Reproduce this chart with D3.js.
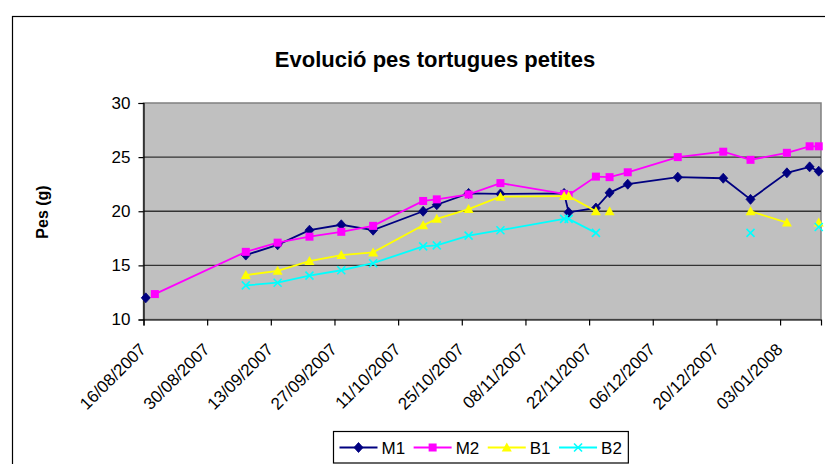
<!DOCTYPE html>
<html>
<head>
<meta charset="utf-8">
<script src="https://cdn.jsdelivr.net/npm/d3@7"></script>
<style>
	html,body{margin:0;padding:0;background:#fff;}
	svg{display:block;font-family:"Liberation Sans",Arial,sans-serif;}
</style>
</head>
<body>
<div id="chart"></div>
<script>
// dates of the weighings
var dates = ["16/08/2007","18/08/2007","07/09/2007","14/09/2007","21/09/2007","28/09/2007","05/10/2007",
	"16/10/2007","19/10/2007","26/10/2007","02/11/2007","16/11/2007","17/11/2007","23/11/2007","26/11/2007",
	"30/11/2007","11/12/2007","21/12/2007","27/12/2007","04/01/2008","09/01/2008","11/01/2008"];
var m1 = [12.0,null,15.95,16.9,18.25,18.75,18.25,20.0,20.6,21.65,21.6,21.65,19.9,20.3,21.7,22.5,23.15,23.05,21.1,23.55,24.1,23.7];
var m2 = [null,12.35,16.25,17.1,17.65,18.1,18.65,20.95,21.1,21.55,22.6,21.6,21.5,23.2,23.15,23.6,25.0,25.5,24.75,25.4,26.0,26.0];
var b1 = [null,null,14.1,14.5,15.4,15.95,16.2,18.7,19.3,20.2,21.35,21.4,21.4,20.0,20.0,null,null,null,20.0,18.95,null,18.95];
var b2 = [null,null,13.15,13.4,14.05,14.55,15.2,16.75,16.85,17.75,18.25,19.3,19.3,18.0,null,null,null,null,18.0,null,null,18.55];
var b1Breaks = ["26/11/2007"]; // line is not joined to this point
var seriesNames = ["M1","M2","B1","B2"];
var yTicks = [10,15,20,25,30];
var axisStart = "16/08/2007", axisEnd = "12/01/2008";

var W = 825, H = 464;
var plot = {left:143.5, right:821, top:103, bottom:319.5};
var styles = {
	M1:{color:"#000080",marker:"diamond"},
	M2:{color:"#ff00ff",marker:"square"},
	B1:{color:"#ffff00",marker:"triangle"},
	B2:{color:"#00ffff",marker:"cross"}
};
var parse = d3.utcParse("%d/%m/%Y");
var fmt = d3.utcFormat("%d/%m/%Y");

var svg = d3.select("#chart").append("svg").attr("width",W).attr("height",H);

// outer chart border (goes past the right and bottom edges)
svg.append("rect").attr("x",12.5).attr("y",16.5).attr("width",W).attr("height",H)
	.attr("fill","#fff").attr("stroke","#000").attr("stroke-width",1.2);

var x = d3.scaleUtc().domain([parse(axisStart),parse(axisEnd)]).range([plot.left,plot.right]);
var y = d3.scaleLinear().domain([10,30]).range([plot.bottom,plot.top]);
var mid = function(s){ return x(d3.utcHour.offset(parse(s),12)); };

// plot area
svg.append("rect").attr("x",plot.left).attr("y",plot.top)
	.attr("width",plot.right-plot.left).attr("height",plot.bottom-plot.top)
	.attr("fill","#c0c0c0").attr("stroke","#808080").attr("stroke-width",1.5);

svg.append("g").selectAll("line").data(yTicks.slice(1,-1)).enter().append("line")
	.attr("x1",plot.left).attr("x2",plot.right)
	.attr("y1",function(d){return y(d);}).attr("y2",function(d){return y(d);})
	.attr("stroke","#333").attr("stroke-width",1.4);

// axes
var yAxis = svg.append("g").attr("transform","translate("+plot.left+",0)")
	.call(d3.axisLeft(y).tickValues(yTicks).tickSize(5).tickPadding(8));
var xTicks = d3.utcDay.range(parse(axisStart),parse(axisEnd),14);
var xAxis = svg.append("g").attr("transform","translate(0,"+plot.bottom+")")
	.call(d3.axisBottom(x).tickValues(xTicks).tickSize(6).tickFormat(fmt));
[yAxis,xAxis].forEach(function(a){
	a.select(".domain").attr("stroke","#000").attr("stroke-width",1.2);
	a.selectAll(".tick line").attr("stroke","#000").attr("stroke-width",1.2);
	a.selectAll("text").attr("font-size",17).attr("fill","#000")
		.attr("font-family","Liberation Sans,Arial,sans-serif");
});
xAxis.selectAll(".tick text")
	.attr("text-anchor","end").attr("y",0).attr("dy",0)
	.attr("transform","translate(3,31) rotate(-45)");

// titles
svg.append("text").attr("x",435).attr("y",67).attr("text-anchor","middle")
	.attr("font-size",22).attr("font-weight","bold").text("Evolució pes tortugues petites");
svg.append("text").attr("transform","translate(48,212) rotate(-90)").attr("text-anchor","middle")
	.attr("font-size",16).attr("font-weight","bold").text("Pes (g)");

function drawMarker(g,type,color,cx,cy){
	if(type=="diamond"){
		g.append("path").attr("d","M"+cx+","+(cy-5)+"L"+(cx+4.5)+","+cy+"L"+cx+","+(cy+5)+"L"+(cx-4.5)+","+cy+"Z")
			.attr("fill",color).attr("stroke",color).attr("stroke-width",0.8);
	}else if(type=="square"){
		g.append("rect").attr("x",cx-4).attr("y",cy-4).attr("width",8).attr("height",8).attr("fill",color);
	}else if(type=="triangle"){
		g.append("path").attr("d","M"+cx+","+(cy-5)+"L"+(cx+5)+","+(cy+4)+"L"+(cx-5)+","+(cy+4)+"Z").attr("fill",color);
	}else{
		g.append("path").attr("d","M"+(cx-4)+","+(cy-4)+"L"+(cx+4)+","+(cy+4)+"M"+(cx+4)+","+(cy-4)+"L"+(cx-4)+","+(cy+4))
			.attr("stroke",color).attr("stroke-width",1.6).attr("fill","none");
	}
}

var allValues = {M1:m1,M2:m2,B1:b1,B2:b2};
var line = d3.line().defined(function(d){return d.v!=null;})
	.x(function(d){return mid(d.date);}).y(function(d){return y(d.v);});

seriesNames.forEach(function(name){
	var vals = allValues[name], st = styles[name];
	var pts = [];
	dates.forEach(function(dt,i){
		if(name=="B1" && b1Breaks.indexOf(dt)>=0) pts.push({date:dt,v:null});
		pts.push({date:dt,v:vals[i]});
	});
	var g = svg.append("g");
	g.append("path").datum(pts).attr("d",line).attr("fill","none")
		.attr("stroke",st.color).attr("stroke-width",1.8);
	pts.forEach(function(p){
		if(p.v!=null) drawMarker(g,st.marker,st.color,mid(p.date),y(p.v));
	});
});

// legend
var lg = svg.append("g");
var box = lg.append("rect").attr("x",333.5).attr("y",431.5).attr("height",31.5)
	.attr("fill","#fff").attr("stroke","#000").attr("stroke-width",1.2);
var lx = 339.5, ly = 447.5;
seriesNames.forEach(function(name){
	var st = styles[name];
	lg.append("line").attr("x1",lx).attr("x2",lx+38).attr("y1",ly).attr("y2",ly)
		.attr("stroke",st.color).attr("stroke-width",1.8);
	drawMarker(lg,st.marker,st.color,lx+19,ly);
	var t = lg.append("text").attr("x",lx+42).attr("y",ly+6).attr("font-size",17).text(name);
	lx += 42 + t.node().getComputedTextLength() + 8.5;
});
box.attr("width",lx-333.5-2);
</script>
</body>
</html>
